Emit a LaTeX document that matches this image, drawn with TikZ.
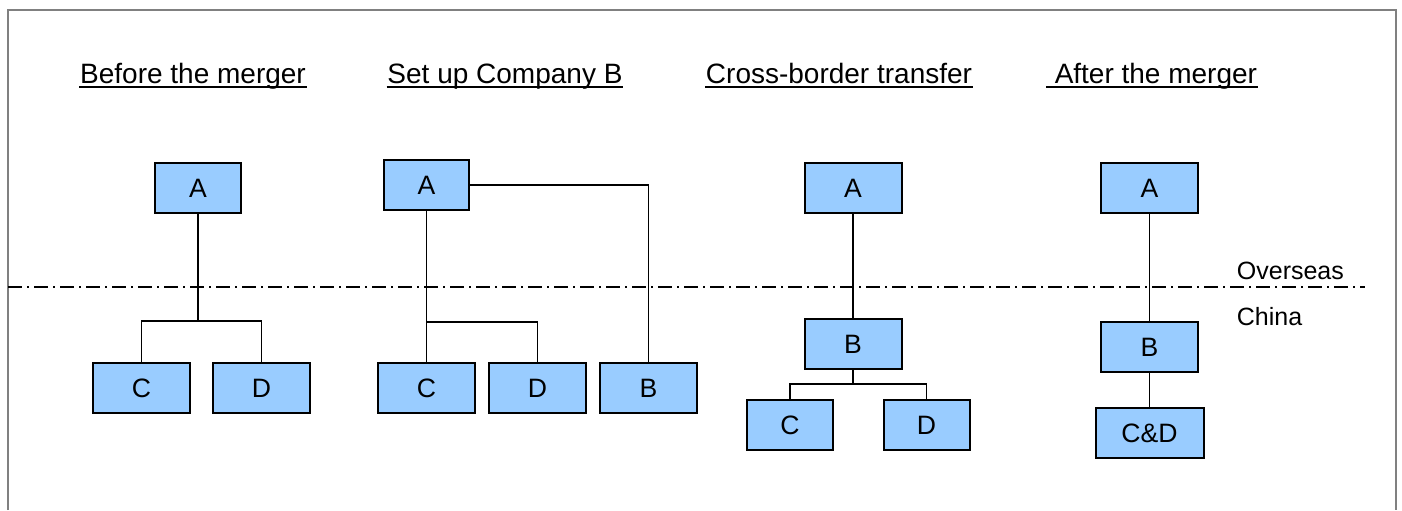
\documentclass[tikz,border=0pt]{standalone}
\usepackage{fontspec}
\setmainfont{Liberation Sans}
\definecolor{boxblue}{HTML}{99CCFF}
\begin{document}
\begin{tikzpicture}[x=0.5pt, y=-0.5pt, line width=0.9pt,
    company/.style={rectangle,draw,fill=boxblue,line width=1pt,minimum width=48.5pt,minimum height=25pt,inner sep=0pt,font=\fontsize{13.3}{15}\selectfont},
    title/.style={inner sep=0pt,anchor=base,font=\fontsize{14}{16}\selectfont},
    side/.style={inner sep=0pt,anchor=west,font=\fontsize{12.5}{15}\selectfont}]

    \useasboundingbox (0,0) rectangle (1402,510);
    % frame, left open at the bottom
    \draw[gray, line width=1.2pt] (8,510) -- (8,10) -- (1396,10) -- (1396,510);

    % headings
    \node[title] at (193,83) (t1) {Before the merger};
    \node[title] at (505,83) (t2) {Set up Company B};
    \node[title] at (839,83) (t3) {Cross-border transfer};
    \node[title] at (1152,83) (t4) {\ After the merger};
    \foreach \t in {t1,t2,t3,t4}
        \draw[line width=1.2pt] ([yshift=-2pt]\t.base west) -- ([yshift=-2pt]\t.base east);

    % border between overseas and china
    \draw[line width=0.8pt, dash pattern=on 7pt off 2.5pt on 1pt off 2.5pt] (8,287) -- (1365,287);
    \node[side] at (1236,271) (over) {Overseas};
    \node[side] at (1236,317) (china) {China};

    % before the merger
    \node[company, minimum width=43pt] at (198,188) (a1) {A};
    \node[company] at (141.5,388) (c1) {C};
    \node[company] at (261.5,388) (d1) {D};
    \coordinate (j1) at (198,321);
    \draw (a1.south) -- (j1);
    \draw (c1.north) |- (j1) -| (d1.north);

    % set up company B
    \node[company, minimum width=42.5pt] at (426.5,185) (a2) {A};
    \node[company] at (426.5,388) (c2) {C};
    \node[company] at (537.5,388) (d2) {D};
    \node[company] at (648.5,388) (b2) {B};
    \coordinate (j2) at (426.5,322);
    \draw (a2.east) -| (b2.north);
    \draw (a2.south) -- (c2.north);
    \draw (j2) -| (d2.north);

    % cross-border transfer
    \node[company] at (853,188) (a3) {A};
    \node[company] at (853,344) (b3) {B};
    \node[company, minimum width=43pt] at (790,425) (c3) {C};
    \node[company, minimum width=43pt] at (926.5,425) (d3) {D};
    \coordinate (j3) at (853,384);
    \draw (a3) -- (b3);
    \draw (b3.south) -- (j3);
    \draw (c3.north) |- (j3) -| (d3.north);

    % after the merger
    \node[company] at (1149.5,188) (a4) {A};
    \node[company] at (1149.5,347) (b4) {B};
    \node[company, minimum width=54pt] at (1149.5,433) (cd4) {C\&D};
    \draw (a4) -- (b4);
    \draw (b4) -- (cd4);
\end{tikzpicture}
\end{document}
